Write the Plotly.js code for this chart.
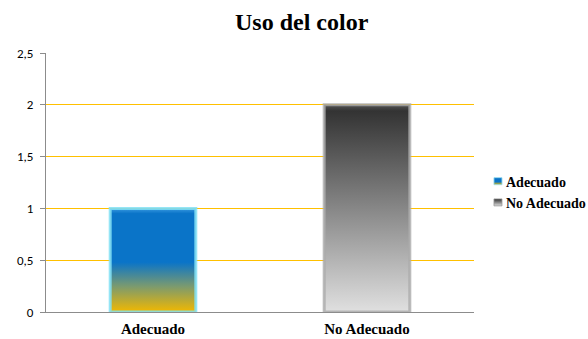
<!DOCTYPE html>
<html><head><meta charset="utf-8">
<script src="https://cdn.plot.ly/plotly-3.0.1.min.js"></script>
<style>body{margin:0;background:#fff}#c{width:588px;height:339px}</style>
</head><body><div id="c"></div>
<script>
const categories = ["Adecuado", "No Adecuado"];
const seriesNames = ["Adecuado", "No Adecuado"];
const values = [1, 2];
const yTicks = [0, 0.5, 1, 1.5, 2, 2.5];
const yTickLabels = ["0", "0,5", "1", "1,5", "2", "2,5"];

const fills = ["#0a74c8", "#6a6a6a"];
const edges = ["rgba(130,225,245,0.85)", "rgba(170,170,170,0.8)"];
const traces = seriesNames.map((n, i) => ({
  type: "bar", name: "<b>" + n + "</b>", x: [categories[i]], y: [values[i]], width: 0.4,
  marker: {color: fills[i], line: {color: edges[i], width: 3}},
  hoverinfo: "none"
}));
const layout = {
  width: 588, height: 339,
  margin: {l: 46, r: 114, t: 53, b: 27, autoexpand: false},
  paper_bgcolor: "#fff", plot_bgcolor: "#fff",
  barmode: "overlay",
  title: {text: "<b>Uso del color</b>", x: 0.513, xanchor: "center", y: 0.935, yanchor: "middle",
          font: {family: "Liberation Serif", size: 24, color: "#000"}},
  xaxis: {showline: true, linecolor: "#8c8c8c", linewidth: 1, ticks: "", showgrid: false,
          tickfont: {family: "Liberation Serif", size: 15, color: "#000"}, ticklabelstandoff: 3,
          tickvals: categories, ticktext: categories.map(c => "<b>" + c + "</b>")},
  yaxis: {range: [0, 2.5], tickvals: yTicks, ticktext: yTickLabels, showline: true,
          linecolor: "#8c8c8c", linewidth: 1, ticks: "outside", ticklen: 5, tickcolor: "#8c8c8c",
          showgrid: true, gridcolor: "#ffc000", gridwidth: 1, zeroline: false,
          tickfont: {family: "Carlito, Liberation Sans", size: 13, color: "#000"}, ticklabelstandoff: 4},
  legend: {x: 1.028, xanchor: "left", y: 0.463, yanchor: "middle", tracegroupgap: 2,
           font: {family: "Liberation Serif", size: 14, color: "#000"}, itemwidth: 30,
           bgcolor: "rgba(0,0,0,0)"},
  showlegend: true
};
Plotly.newPlot("c", traces, layout, {staticPlot: true}).then(gd => {
  const svg = gd.querySelector("svg.main-svg");
  const ns = "http://www.w3.org/2000/svg";
  const defs = document.createElementNS(ns, "defs");
  defs.innerHTML =
    '<linearGradient id="gA" x1="0" y1="0" x2="0" y2="1">' +
    '<stop offset="0" stop-color="#3a9ae0"/><stop offset="0.05" stop-color="#0a74c8"/>' +
    '<stop offset="0.52" stop-color="#0a74c8"/><stop offset="0.75" stop-color="#7a9a70"/>' +
    '<stop offset="1" stop-color="#f2b800"/></linearGradient>' +
    '<linearGradient id="gB" x1="0" y1="0" x2="0" y2="1">' +
    '<stop offset="0" stop-color="#555"/><stop offset="0.03" stop-color="#333"/>' +
    '<stop offset="1" stop-color="#e0e0e0"/></linearGradient>' +
    '<linearGradient id="lA" x1="0" y1="0" x2="0" y2="1">' +
    '<stop offset="0" stop-color="#0a74c8"/><stop offset="0.6" stop-color="#0a74c8"/>' +
    '<stop offset="1" stop-color="#f2c000"/></linearGradient>';
  svg.insertBefore(defs, svg.firstChild);
  const ids = ["gA", "gB"];
  gd.querySelectorAll(".barlayer .trace").forEach((t, i) => {
    t.querySelectorAll("path").forEach(p => p.style.fill = "url(#" + ids[i] + ")");
  });
  const lids = ["lA", "gB"];
  gd.querySelectorAll(".legend .traces").forEach((t, i) => {
    t.querySelectorAll(".legendpoints path").forEach(p => {
      p.setAttribute("d", "M-4,-3.5h8v7h-8z");
      p.setAttribute("transform", "translate(12,0)");
      p.style.fill = "url(#" + lids[i] + ")";
      p.style.stroke = i === 0 ? "#8fd8ee" : "#999";
      p.style.strokeWidth = "1px";
    });
    const tx = t.querySelector("text.legendtext");
    if (tx) tx.setAttribute("x", 20);
  });
});
</script></body></html>
